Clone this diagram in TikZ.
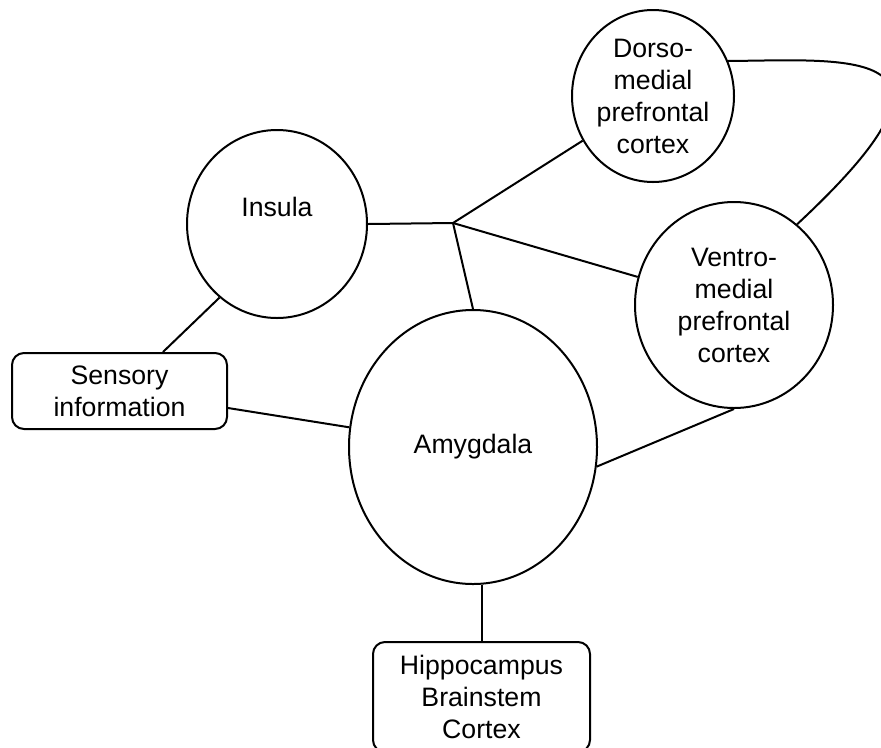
\documentclass[tikz,border=0pt]{standalone}
\usepackage{fontspec}
\setmainfont{Liberation Sans}
\usetikzlibrary{positioning,shapes}

\tikzset{
  region/.style={ellipse, draw, line width=1.5pt, inner sep=-6pt, align=center},
  infobox/.style={rectangle, rounded corners=9pt, draw, line width=1.5pt, align=center},
  link/.style={line width=1.5pt}
}

\begin{document}
\begin{tikzpicture}[x=0.75pt, y=-0.75pt, font=\fontsize{20}{24}\selectfont]
    \useasboundingbox (0,0) rectangle (881,747);
    \node[region, minimum width=121.5pt, minimum height=129pt] (Dorso) at (653,96) {Dorso-\\medial\\prefrontal\\cortex};
    \node[region, minimum width=135pt, minimum height=141pt, label={[yshift=12.75pt]center:Insula}] (Insula) at (277,224) {};
    \node[region, minimum width=148.5pt, minimum height=154.5pt] (Ventro) at (734,305) {Ventro-\\medial\\prefrontal\\cortex};
    \node[region, minimum width=186pt, minimum height=205.5pt] (Amyg) at (473,447) {Amygdala};
    \node[infobox, minimum width=161.25pt, minimum height=57pt] (Sensory) at (119.5,391) {Sensory\\information};
    \node[infobox, minimum width=162.75pt, minimum height=82.5pt] (Hippo) at (481.5,697) {Hippocampus\\Brainstem\\Cortex};
    \coordinate (J) at (453,223);
    \draw[link] (Insula.east) -- (J);
    \draw[link] (J) -- (Dorso);
    \draw[link] (J) -- (Ventro);
    \draw[link] (J) -- (Amyg.north);
    \draw[link] (Insula.232) -- ([xshift=32.6pt]Sensory.north);
    \draw[link] ([yshift=-12.75pt]Sensory.east) -- (Amyg);
    \draw[link] (Amyg.-9) -- (Ventro.south);
    \draw[link] (Hippo.north) -- (Hippo.north |- Amyg.south);
    \draw[link] (Dorso.25) .. controls (850,60) and (990,45) .. (Ventro.52);
\end{tikzpicture}
\end{document}
